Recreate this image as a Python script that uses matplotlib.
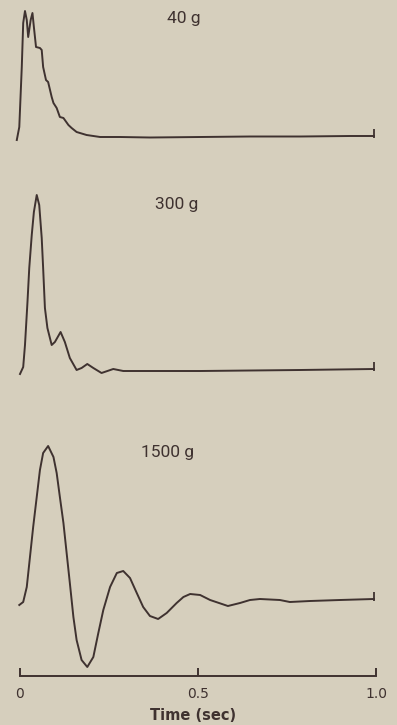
import matplotlib.pyplot as plt

# Styling constants
BG_COLOR = "#D6CFBD"
INK_COLOR = "#3F3230"
LINE_WIDTH = 1.4

# Time (sec) and deflection (arbitrary units)
TIME_40 = [-0.009, -0.002, 0.005, 0.009, 0.014, 0.019, 0.023, 0.030, 0.035,
           0.039, 0.045, 0.056, 0.061, 0.065, 0.073, 0.079, 0.089, 0.094,
           0.103, 0.112, 0.122, 0.136, 0.145, 0.159, 0.187, 0.225, 0.281,
           0.365, 0.506, 0.646, 0.787, 0.927, 0.994]
AMP_40 = [-3, 10, 70, 114, 126, 117, 100, 117, 124, 110, 90, 89, 87, 70, 57,
          55, 40, 34, 29, 20, 19, 12, 9, 5, 2, 0, 0, -0.5, 0, 0.5, 0.5, 1, 1]

TIME_300 = [0.000, 0.009, 0.014, 0.021, 0.026, 0.033, 0.039, 0.047, 0.054,
            0.061, 0.065, 0.070, 0.077, 0.089, 0.098, 0.114, 0.126, 0.140,
            0.159, 0.173, 0.189, 0.206, 0.229, 0.262, 0.290, 0.337, 0.506,
            0.787, 0.994]
AMP_300 = [-2, 5, 27, 70, 104, 137, 160, 177, 167, 134, 104, 64, 44, 27, 30,
           40, 30, 14, 2, 4, 8, 4, -1, 3, 1, 1, 1, 2, 3]

TIME_1500 = [-0.002, 0.009, 0.019, 0.028, 0.037, 0.047, 0.056, 0.065, 0.079,
             0.094, 0.103, 0.112, 0.122, 0.131, 0.140, 0.150, 0.159, 0.173,
             0.189, 0.206, 0.220, 0.234, 0.253, 0.272, 0.290, 0.309, 0.328,
             0.346, 0.365, 0.388, 0.412, 0.440, 0.459, 0.478, 0.506, 0.534,
             0.584, 0.618, 0.646, 0.674, 0.730, 0.758, 0.815, 0.899, 0.994]
AMP_1500 = [-5, -2, 13, 43, 73, 103, 130, 147, 154, 143, 127, 103, 77, 47, 17,
            -17, -40, -60, -67, -57, -33, -10, 13, 27, 29, 22, 7, -7, -16,
            -19, -13, -3, 3, 6, 5, 0, -6, -3, 0, 1, 0, -2, -1, 0, 1]

LABELS = ["40 g", "300 g", "1500 g"]
X_TICKS = [0, 0.5, 1.0]
X_TICK_LABELS = ["0", "0.5", "1.0"]

# Layout: vertical baseline of each trace and where its label sits
OFFSETS = [539, 304, 76]
LABEL_POS = [(0.461, 658), (0.441, 471), (0.415, 223)]


def main():
    fig = plt.figure(figsize=(3.97, 7.25), dpi=100, facecolor=BG_COLOR)
    ax = fig.add_axes([0, 49 / 725, 1, 676 / 725])
    ax.set_facecolor(BG_COLOR)

    traces = [(TIME_40, AMP_40), (TIME_300, AMP_300), (TIME_1500, AMP_1500)]
    for (t, amp), off, label, (lx, ly) in zip(traces, OFFSETS, LABELS, LABEL_POS):
        y = [a + off for a in amp]
        ax.plot(t, y, color=INK_COLOR, linewidth=LINE_WIDTH,
                solid_joinstyle="round")
        # small end marker on the right of each trace
        ax.vlines(t[-1], y[-1] - 2, y[-1] + 7, color=INK_COLOR, linewidth=1.3)
        ax.text(lx, ly, label, color=INK_COLOR, fontsize=12.5,
                ha="center", va="center", family="Roboto")

    ax.set_xlim(-20 / 356, 377 / 356)
    ax.set_ylim(0, 676)
    for side in ["top", "right", "left"]:
        ax.spines[side].set_visible(False)
    ax.spines["bottom"].set_bounds(0, 1.0)
    ax.spines["bottom"].set_color(INK_COLOR)
    ax.spines["bottom"].set_linewidth(1.4)
    ax.set_yticks([])
    ax.set_xticks(X_TICKS)
    ax.set_xticklabels(X_TICK_LABELS)
    ax.tick_params(axis="x", direction="in", length=6, width=1.4,
                   colors=INK_COLOR, labelsize=10, pad=8)

    fig.text(193 / 397, 1 - 715 / 725, "Time (sec)", color=INK_COLOR,
             fontsize=10.5, ha="center", va="center", fontweight="semibold")

    fig.savefig("out.png", dpi=100, facecolor=BG_COLOR)


if __name__ == "__main__":
    main()
